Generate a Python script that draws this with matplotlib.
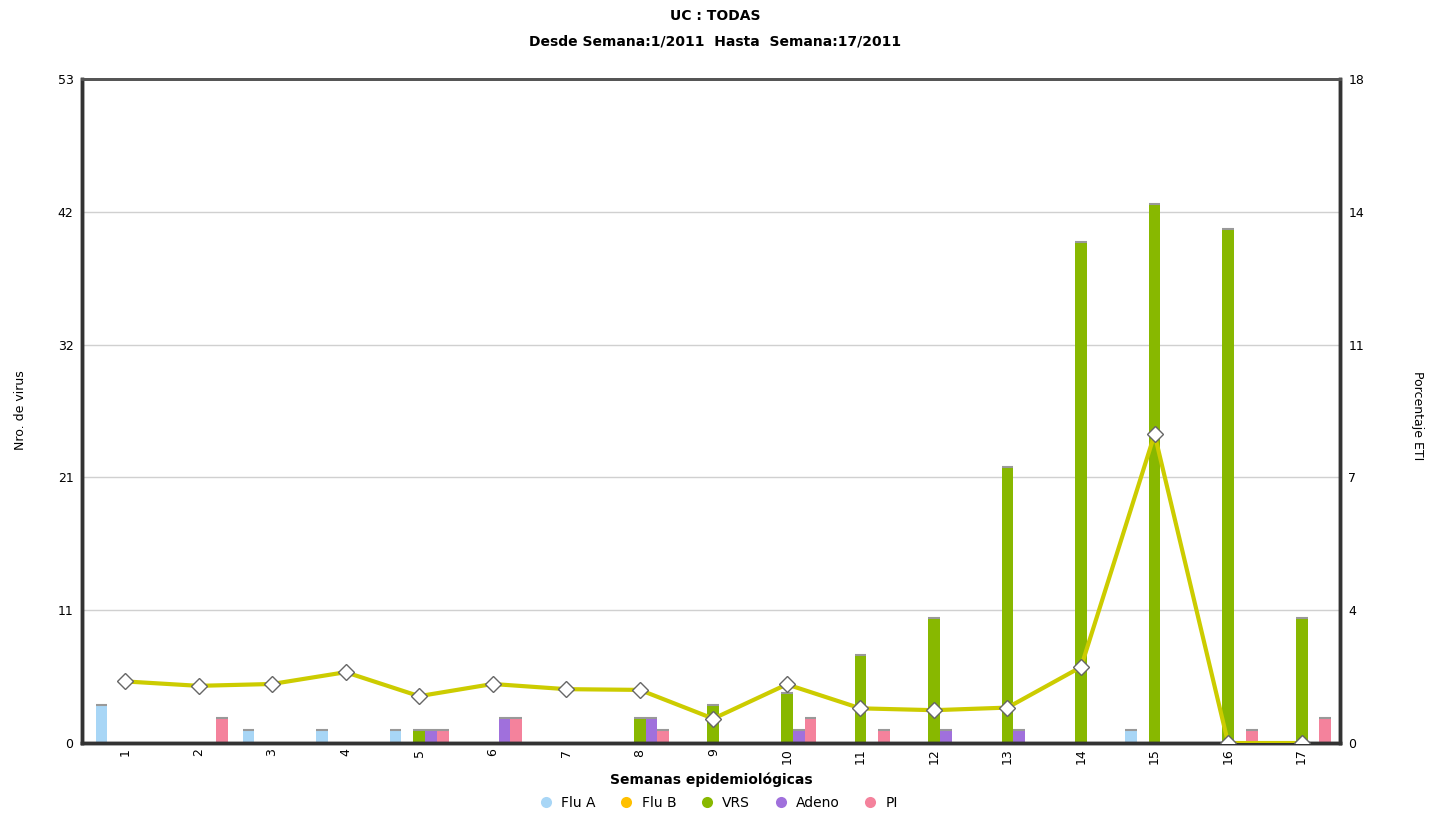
import numpy as np
import matplotlib
matplotlib.use('Agg')
from matplotlib import pyplot as plt
from matplotlib.lines import Line2D

#%% Data
weeks = list(range(1, 18))
week_labels = [str(w) for w in weeks]
flu_a = [3, 0, 1, 1, 1, 0, 0, 0, 0, 0, 0, 0, 0, 0, 1, 0, 0]
flu_b = [0, 0, 0, 0, 0, 0, 0, 0, 0, 0, 0, 0, 0, 0, 0, 0, 0]
vrs   = [0, 0, 0, 0, 1, 0, 0, 2, 3, 4, 7, 10, 22, 40, 43, 41, 10]
adeno = [0, 0, 0, 0, 1, 2, 0, 2, 0, 1, 0, 1, 1, 0, 0, 0, 0]
pi    = [0, 2, 0, 0, 1, 2, 0, 1, 0, 2, 1, 0, 0, 0, 0, 1, 2]
eti   = [1.67, 1.55, 1.6, 1.92, 1.27, 1.6, 1.46, 1.44, 0.66, 1.59,
         0.94, 0.89, 0.96, 2.06, 8.37, 0.0, 0.0]
series_names = ['Flu A', 'Flu B', 'VRS', 'Adeno', 'PI']
series_colors = ['#A8D6F6', '#FFC000', '#88B800', '#A070DC', '#F4829C']
left_ticks = [0, 11, 21, 32, 42, 53]
right_ticks = [0, 4, 7, 11, 14, 18]

#%% Plot
fig = plt.figure(figsize=(14.3, 8.14), dpi=100)
ax = fig.add_axes([0.0573, 0.0872, 0.8797, 0.8158])
x = np.array(weeks, dtype=float)
width = 0.16
all_series = [flu_a, flu_b, vrs, adeno, pi]
for k, (vals, col) in enumerate(zip(all_series, series_colors)):
    xs = x + (k - 2) * width
    vals = np.array(vals, dtype=float)
    ax.bar(xs, vals, width=width, color=col, edgecolor='none', zorder=2)
    # grey cap on top of each bar
    nz = vals > 0
    ax.hlines(vals[nz], xs[nz] - width / 2, xs[nz] + width / 2,
              colors='#999999', lw=1.5, zorder=3)

ax.set_xlim(0.415, 17.52)
ax.set_ylim(0, 53)
ax.set_yticks(np.linspace(0, 53, 6))
ax.set_yticklabels([str(t) for t in left_ticks], fontsize=9)
ax.yaxis.grid(True, color='#d0d0d0', lw=1, zorder=0)
ax.set_axisbelow(True)
ax.set_xticks(x)
ax.set_xticklabels(week_labels, rotation=90, fontsize=9)
ax.tick_params(axis='x', length=0, pad=4)
ax.tick_params(axis='y', length=0, pad=6)
ax.set_xlabel('Semanas epidemiológicas', fontsize=10, fontweight='bold', labelpad=6)

ax2 = ax.twinx()
ax2.plot(x, eti, color='#CCCC00', lw=3, marker='D', markersize=8,
         markerfacecolor='white', markeredgecolor='#666666',
         markeredgewidth=1, zorder=5)
ax2.set_ylim(0, 18)
ax2.set_yticks(np.linspace(0, 18, 6))
ax2.set_yticklabels([str(t) for t in right_ticks], fontsize=9)
ax2.tick_params(axis='y', length=0, pad=6)

for a in (ax, ax2):
    for side in ['left', 'right', 'bottom']:
        a.spines[side].set_color('#333333')
        a.spines[side].set_linewidth(2.5)
    a.spines['top'].set_color('#555555')
    a.spines['top'].set_linewidth(2)

# axis titles placed in figure coords so they stay inside the canvas
fig.text(0.014, 0.496, 'Nro. de virus', rotation=90, ha='center', va='center', fontsize=9)
fig.text(0.9916, 0.49, 'Porcentaje ETI', rotation=270, ha='center', va='center', fontsize=9)

fig.text(0.5, 0.989, 'UC : TODAS', ha='center', va='top',
         fontsize=10, fontweight='bold')
fig.text(0.5, 0.958, 'Desde Semana:1/2011  Hasta  Semana:17/2011',
         ha='center', va='top', fontsize=10, fontweight='bold')

handles = [Line2D([0], [0], marker='o', color='none', markerfacecolor=c,
                  markeredgecolor='none', markersize=8) for c in series_colors]
fig.legend(handles, series_names, loc='lower center', ncol=5,
           bbox_to_anchor=(0.5, -0.01), frameon=False, fontsize=10,
           handletextpad=0.1, columnspacing=1.2)

plt.savefig('out.png', dpi=100)
